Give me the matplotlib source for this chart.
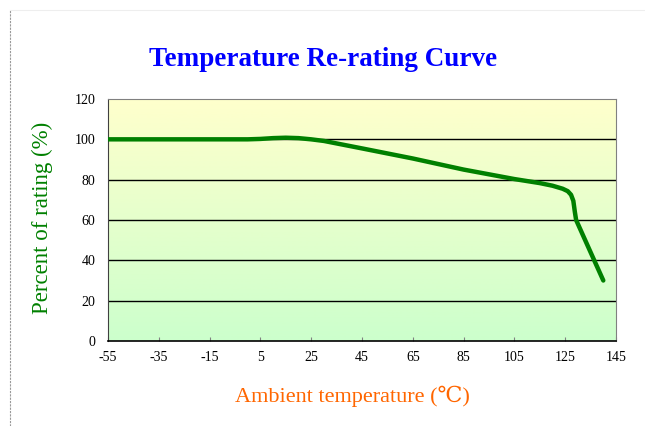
import numpy as np
import matplotlib
matplotlib.use("Agg")
import matplotlib.pyplot as plt
from matplotlib.colors import LinearSegmentedColormap
from matplotlib.lines import Line2D

# Data
temps = [-55, -35, -15, 0, 5, 10, 15, 20, 25, 30, 45, 65, 85, 105, 115, 120, 124,
         126, 127.3, 128.2, 128.8, 129.3, 135, 140]
pct = [100, 100, 100, 100, 100.2, 100.6, 100.8, 100.6, 100, 99.2, 95.5, 90.5, 85,
       80.3, 78.3, 77, 75.5, 74.3, 72.5, 69.5, 64, 60, 44, 30]
xticks = [-55, -35, -15, 5, 25, 45, 65, 85, 105, 125, 145]
yticks = [0, 20, 40, 60, 80, 100, 120]

serif = ["Liberation Serif", "DejaVu Serif"]

W, H = 645, 426
fig = plt.figure(figsize=(W / 100, H / 100), dpi=100)
fig.patch.set_facecolor("white")

left, right, top, bottom = 108, 616, 99, 341
ax = fig.add_axes([left / W, 1 - bottom / H, (right - left) / W, (bottom - top) / H])

# gradient background
cmap = LinearSegmentedColormap.from_list("bg", ["#CCFFCC", "#FFFFCC"])
grad = np.linspace(0, 1, 256).reshape(-1, 1)
ax.imshow(grad, aspect="auto", cmap=cmap, origin="lower",
          extent=[-55, 145, 0, 120], zorder=0)

for yv in yticks[1:-1]:
    ax.axhline(yv, color="black", lw=1.0, zorder=1)

ax.plot(temps, pct, color="#008000", lw=3.2, solid_capstyle="round",
        solid_joinstyle="round", zorder=3)

ax.set_xlim(-55, 145)
ax.set_ylim(0, 120)
ax.set_xticks(xticks)
ax.set_yticks(yticks)
ax.set_xticklabels([str(v) for v in xticks], fontfamily=serif, fontsize=10)
ax.set_yticklabels([str(v) for v in yticks], fontfamily=serif, fontsize=10)
ax.tick_params(axis="x", direction="in", length=3, color="#808080", pad=7)
ax.tick_params(axis="y", length=0, pad=9)

for s in ["top", "right"]:
    ax.spines[s].set_color("#808080")
ax.spines["left"].set_color("#404040")
ax.spines["bottom"].set_color("black")
ax.spines["bottom"].set_linewidth(1.2)

fig.text(323 / W, 1 - 60 / H, "Temperature Re-rating Curve", ha="center", va="center",
         color="#0000FF", fontsize=19.5, fontweight="bold", fontfamily=serif)
fig.text(42 / W, 1 - 218 / H, "Percent of rating (%)", ha="center", va="center",
         rotation=90, color="#008000", fontsize=16.5, fontfamily=serif)
fig.text(352 / W, 1 - 396 / H, "Ambient temperature (\u2103)", ha="center", va="center",
         color="#FF6600", fontsize=16, fontfamily=serif + ["Noto Sans CJK SC"])

# frame decorations
fig.add_artist(Line2D([10 / W, 10 / W], [0, 1 - 10 / H], color="#999999", lw=0.8,
                      ls=(0, (2, 1)), transform=fig.transFigure))
fig.add_artist(Line2D([10 / W, 1], [1 - 10 / H, 1 - 10 / H], color="#EEEEEE", lw=0.8,
                      transform=fig.transFigure))

fig.savefig("out.png", dpi=100)
